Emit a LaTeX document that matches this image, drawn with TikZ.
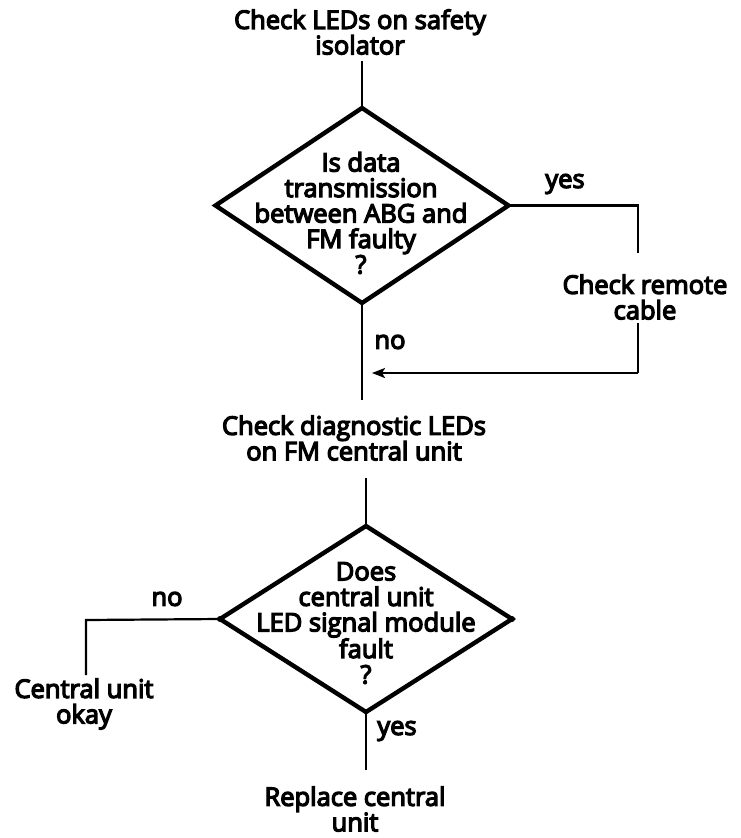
\documentclass[tikz,border=0pt]{standalone}
\usepackage{fontspec}
\setmainfont{Open Sans}[FakeBold=5]
\usetikzlibrary{shapes.geometric,arrows.meta}
\begin{document}
\begin{tikzpicture}[x=1pt,y=-1pt,
  lbl/.style={font=\fontsize{25.5}{25.5}\selectfont, align=center, inner sep=0pt},
  dia/.style={diamond, draw, line width=4.4pt, line join=miter, inner sep=0pt, outer sep=0pt},
  conn/.style={line width=2.2pt},
  dotmark/.style={circle, fill, inner sep=0pt, minimum size=6pt}]
\useasboundingbox (0,0) rectangle (741,838);

% nodes
\node[lbl] (t1) at (360,32) {Check LEDs on safety\\isolator};
\node[dia, minimum width=293pt, minimum height=195pt] (d1) at (362,205.5) {};
\node[lbl] (q1) at (361,213) {Is data\\transmission\\between ABG and\\FM faulty\\?};
\node[lbl] (t2) at (645,297) {Check remote\\cable};
\node[lbl] (t3) at (354,438) {Check diagnostic LEDs\\on FM central unit};
\node[dia, minimum width=292pt, minimum height=186pt] (d2) at (366,619) {};
\node[lbl] (q2) at (366,623) {Does\\central unit\\LED signal module\\fault\\?};
\node[lbl] (t4) at (84,704) {Central unit\\okay};
\node[lbl] (t5) at (355,809) {Replace central\\unit};

\node[lbl] (yes1) at (565,184) {yes};
\node[lbl] (no1) at (390,342) {no};
\node[lbl] (no2) at (167,599) {no};
\node[lbl] (yes2) at (397,731) {yes};

\node[dotmark] (p1) at (d2.west) {};
\node[dotmark] (p2) at (d2.east) {};

\coordinate (c1) at (638,205.5);
\coordinate (c2) at (638,373);
\coordinate (arr) at (372,373);
\coordinate (c3) at (86,620);

% connectors
\draw[conn] (d1.north |- t1.south) ++(0,6) -- (d1.north);
\draw[conn] (d1.east) -- (c1) -- (c1 |- 0,253);
\draw[conn] (c1 |- 0,323) -- (c2);
\draw[conn, -{Stealth[length=13pt,width=10pt,inset=3pt]}] (c2) -- (arr);
\draw[conn] (d1.south) -- (d1.south |- 0,400);
\draw[conn] (d2.north |- 0,478) -- (d2.north);
\draw[conn] (d2.west) -- (c3) -- (c3 |- 0,675);
\draw[conn] (d2.south) -- (d2.south |- 0,770);
\end{tikzpicture}
\end{document}
